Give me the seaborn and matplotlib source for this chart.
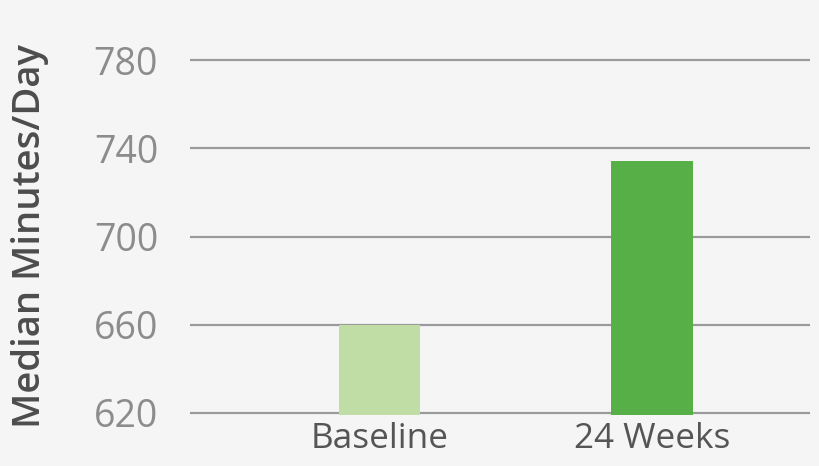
import matplotlib
matplotlib.use("Agg")
import matplotlib.pyplot as plt
import seaborn as sns
import pandas as pd

categories = ["Baseline", "24 Weeks"]
values = [660, 734]
bar_colors = ["#c1dda6", "#56b047"]
y_ticks = [620, 660, 700, 740, 780]

sns.set_theme(style="white")
plt.rcParams['font.family'] = ['Open Sans', 'DejaVu Sans']

df = pd.DataFrame({"Period": categories, "Minutes": values})

fig = plt.figure(figsize=(8.2, 4.66), dpi=100)
fig.patch.set_facecolor("#f5f5f5")
ax_left, ax_right = 190 / 820, 810 / 820
ax_top, ax_bot = 57.8 / 466, 415.2 / 466
ax = fig.add_axes([ax_left, 1 - ax_bot, ax_right - ax_left, ax_bot - ax_top])
ax.set_facecolor("#f5f5f5")

for yv in y_ticks:
    ax.axhline(yv, color="#9a9a9a", linewidth=1.6, zorder=0)

sns.barplot(data=df, x="Period", y="Minutes", hue="Period", palette=bar_colors,
            order=categories, hue_order=categories, width=0.30, legend=False,
            saturation=1, ax=ax, zorder=2, linewidth=0)

ax.set_ylim(619, 781)
ax.set_xlim(-0.695, 1.580)
ax.set_yticks(y_ticks)
ax.set_yticklabels([str(v) for v in y_ticks], color="#8c8c8c", fontsize=27)
ax.set_xticks(range(len(categories)))
ax.set_xticklabels(categories, color="#555555", fontsize=25.3)
ax.tick_params(axis="y", length=0, pad=23)
ax.tick_params(axis="x", length=0, pad=5)
for s in ax.spines.values():
    s.set_visible(False)
ax.set_xlabel("")
ax.set_ylabel("Median Minutes/Day", fontsize=27.5, fontweight="semibold", color="#4d4d4d", va="center")
ax.yaxis.set_label_coords(-0.258, 0.5)

fig.savefig("out.png", dpi=100, facecolor=fig.get_facecolor())
